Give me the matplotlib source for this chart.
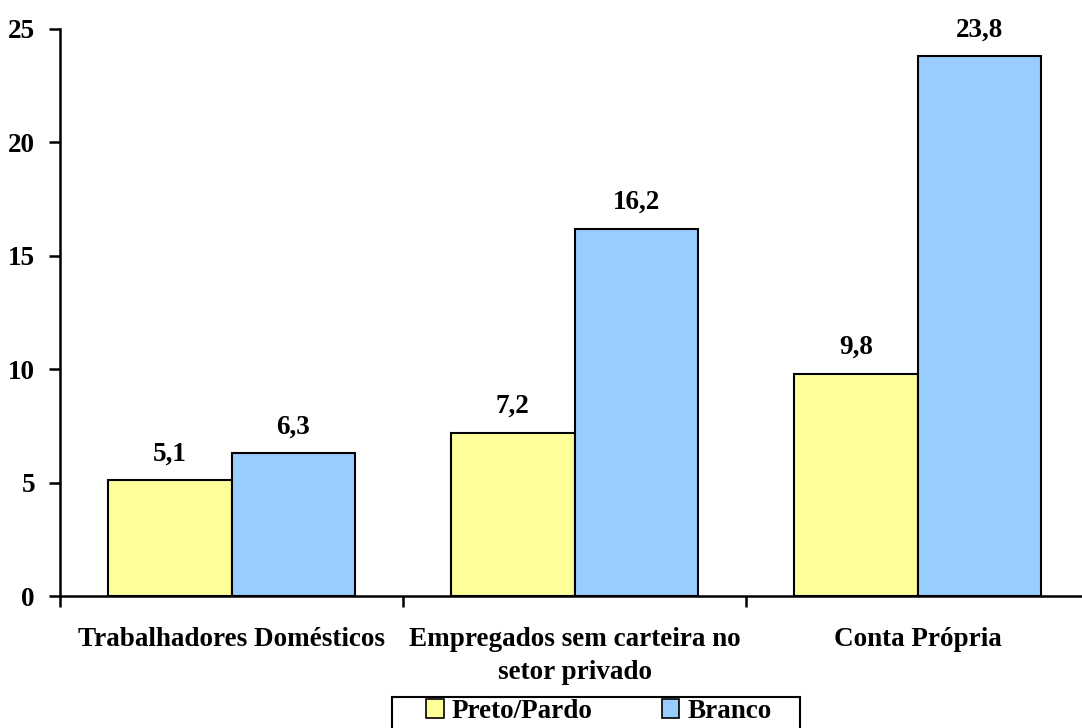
import matplotlib
matplotlib.use("Agg")
import matplotlib.pyplot as plt
import numpy as np
from matplotlib.patches import Patch, Rectangle

categories = ["Trabalhadores Domésticos", "Empregados sem carteira no\nsetor privado", "Conta Própria"]
series_names = ["Preto/Pardo", "Branco"]
preto_pardo = [5.1, 7.2, 9.8]
branco = [6.3, 16.2, 23.8]
yticks = [0, 5, 10, 15, 20, 25]

colors = ["#FFFF99", "#99CCFF"]

plt.rcParams["font.family"] = ["Liberation Serif", "DejaVu Serif"]
plt.rcParams["font.weight"] = "bold"
FS = 19.5

W, H = 1082, 728
fig = plt.figure(figsize=(W / 100, H / 100), dpi=100)
ax = fig.add_axes([60 / W, 1 - 596 / H, 1029 / W, (596 - 29) / H])

x = np.arange(len(categories))
bw = 0.36
for i, (vals, col) in enumerate(zip([preto_pardo, branco], colors)):
    pos = x + (i - 0.5) * bw
    ax.bar(pos, vals, width=bw, color=col, edgecolor="black", linewidth=1.5, zorder=3)
    for p, v in zip(pos, vals):
        ax.annotate(f"{v:.1f}".replace(".", ","), (p, v), xytext=(0, 10),
                    textcoords="offset points", ha="center", va="bottom",
                    fontsize=FS, fontweight="bold")

ax.set_xlim(-0.5, len(categories) - 0.5)
ax.set_ylim(0, 25)
ax.set_yticks(yticks)
ax.set_yticklabels([str(t) for t in yticks], fontsize=FS, fontweight="bold")
ax.set_xticks(np.arange(len(categories)) - 0.5, minor=False)
ax.set_xticklabels([])
ax.set_xticks(x, minor=True)
ax.set_xticklabels(categories, minor=True, fontsize=FS, fontweight="bold", linespacing=1.45)
ax.tick_params(axis="x", which="minor", length=0, pad=22)
ax.tick_params(axis="x", which="major", length=8, width=1.8, direction="out")
ax.tick_params(axis="y", length=8, width=1.8, direction="out", pad=10)

for s in ["top", "right"]:
    ax.spines[s].set_visible(False)
for s in ["left", "bottom"]:
    ax.spines[s].set_linewidth(1.8)

# legend entries, with a separate box drawn around them
handles = [Patch(facecolor=c, edgecolor="black", linewidth=1.2) for c in colors]
leg = fig.legend(handles, series_names, loc="upper center",
                 bbox_to_anchor=(599 / W, 1 - 699 / H), ncol=2,
                 prop={"family": "Liberation Serif", "weight": "bold", "size": FS},
                 frameon=False,
                 handlelength=0.65, handleheight=0.65, handletextpad=0.3,
                 columnspacing=2.55, borderpad=0.0, borderaxespad=0)
fig.patches.append(Rectangle((392 / W, -20 / H), (800 - 392) / W, (20 + 728 - 697) / H,
                             transform=fig.transFigure, fill=False,
                             edgecolor="black", linewidth=1.5))

fig.savefig("out.png", dpi=100)
